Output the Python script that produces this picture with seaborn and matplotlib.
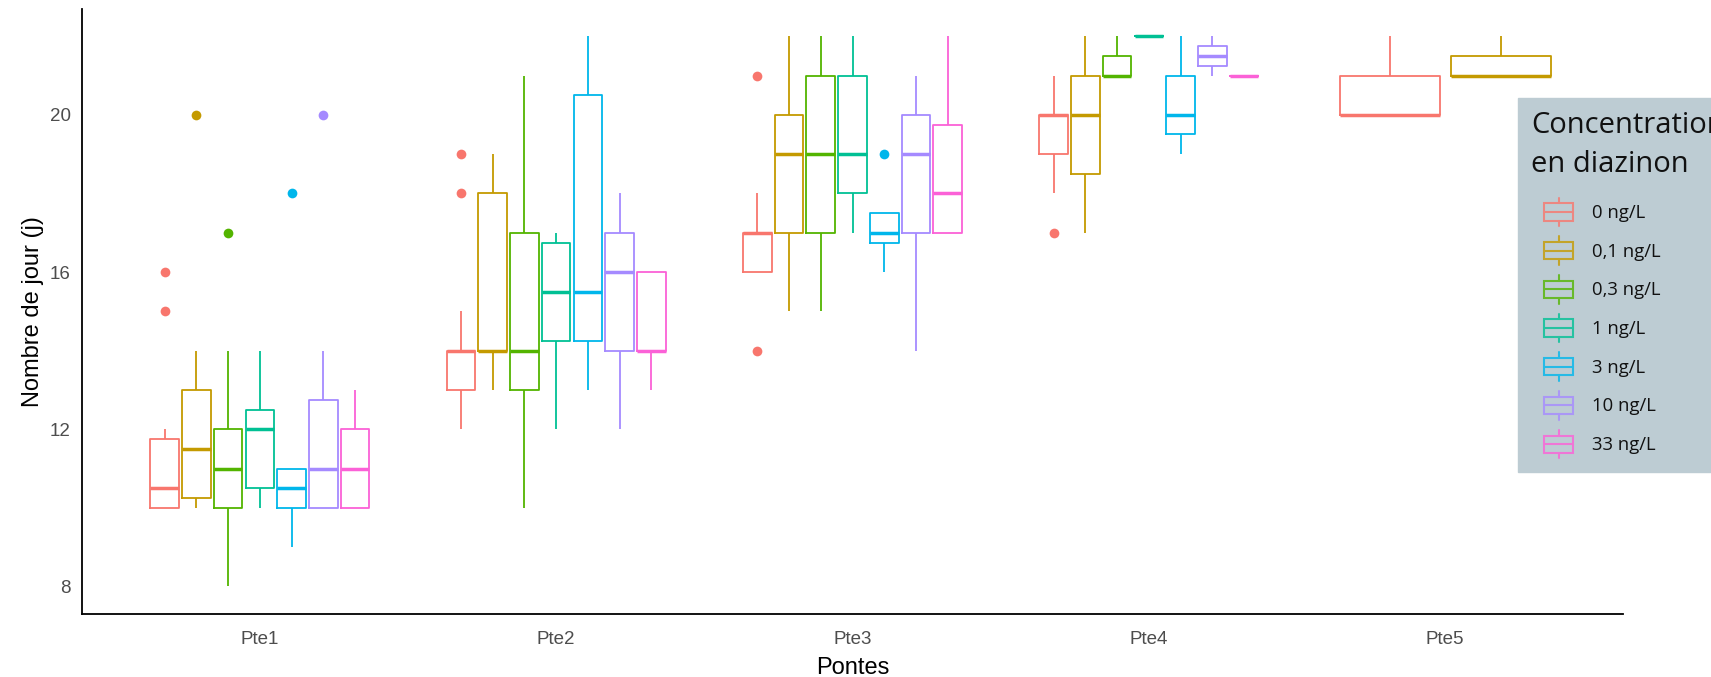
import pandas as pd
import matplotlib
matplotlib.use("Agg")
import matplotlib.pyplot as plt
import matplotlib.colors as mcolors
import seaborn as sns
from matplotlib.patches import Patch, Rectangle
from matplotlib.lines import Line2D
from matplotlib.legend_handler import HandlerBase

pontes = ["Pte1", "Pte2", "Pte3", "Pte4", "Pte5"]
concentrations = ["0 ng/L", "0,1 ng/L", "0,3 ng/L", "1 ng/L", "3 ng/L", "10 ng/L", "33 ng/L"]
colors = ["#F8766D", "#C49A00", "#53B400", "#00C094", "#00B6EB", "#A58AFF", "#FB61D7"]

# nombre de jours, une liste par concentration
pte1 = [
    [10, 10, 10, 10, 10, 11, 11, 12, 15, 16],
    [10, 10, 10, 11, 11, 12, 13, 13, 14, 20],
    [8, 10, 10, 11, 11, 12, 12, 14, 17],
    [10, 10, 11, 12, 12, 13, 14],
    [9, 10, 10, 10, 11, 11, 11, 18],
    [10, 10, 10, 10, 11, 11, 12, 13, 14, 20],
    [10, 10, 10, 11, 11, 12, 12, 13],
]
pte2 = [
    [12, 13, 13, 13, 14, 14, 14, 14, 14, 14, 15, 18, 19],
    [13, 14, 14, 14, 14, 16, 18, 18, 19],
    [10, 13, 13, 14, 14, 16, 17, 19, 21],
    [12, 13, 14, 15, 15, 16, 16, 17, 17, 17],
    [13, 14, 14, 15, 15, 16, 19, 21, 22, 22],
    [12, 13, 14, 15, 16, 16, 17, 18, 18],
    [13, 14, 14, 14, 14, 15, 16, 16, 16],
]
pte3 = [
    [14, 16, 16, 16, 17, 17, 17, 17, 17, 17, 18, 21],
    [15, 16, 17, 18, 19, 19, 20, 21, 22],
    [15, 16, 17, 18, 19, 20, 21, 21, 22],
    [17, 17, 18, 19, 19, 20, 21, 22, 22],
    [16, 16.5, 17, 17, 17.5, 17.5, 19],
    [14, 16, 17, 18, 19, 19, 20, 21, 21],
    [17, 17, 17, 17, 18, 18, 19, 20, 21, 22],
]
pte4 = [
    [17, 18, 19, 19, 20, 20, 20, 20, 21],
    [17, 18, 19, 20, 21, 21, 22],
    [21, 21, 21, 21, 21, 22, 22],
    [22, 22, 22],
    [19, 19, 20, 20, 21, 21, 22],
    [21, 22],
    [21, 21],
]
pte5 = [
    [20, 20, 20, 21, 22],
    [21, 21, 22],
]

rows = []
for ponte, groups in zip(pontes, [pte1, pte2, pte3, pte4, pte5]):
    for conc, values in zip(concentrations, groups):
        for v in values:
            rows.append((ponte, conc, v))
df = pd.DataFrame(rows, columns=["Pontes", "Concentration", "Jours"])

sns.set_style("white")
plt.rcParams["font.family"] = ["Liberation Sans", "DejaVu Sans"]

fig = plt.figure(figsize=(17.11, 6.77), dpi=100)
W, H = 1711, 677
ax = fig.add_axes([82 / W, 1 - 614 / H, (1623 - 82) / W, (614 - 8.7) / H])

box_kws = dict(x="Pontes", y="Jours", hue="Concentration", order=pontes,
               fill=False, width=0.75, gap=0.1, linewidth=1.3, showcaps=False,
               medianprops={"linewidth": 2.5},
               flierprops={"marker": "o", "markersize": 7, "markeredgewidth": 0},
               legend=False, ax=ax)

# Pte5 n'a que deux concentrations: ggplot élargit les boîtes
sns.boxplot(data=df[df.Pontes != "Pte5"], hue_order=concentrations, palette=colors, **box_kws)
sns.boxplot(data=df[df.Pontes == "Pte5"], hue_order=concentrations[:2], palette=colors[:2], **box_kws)

for line in ax.lines:
    if line.get_marker() not in (None, "None", "", " "):
        line.set_markerfacecolor(line.get_markeredgecolor())

ax.set_xlim(-0.6, 4.6)
ax.set_ylim(7.3, 22.7)
ax.set_yticks([8, 12, 16, 20])
sns.despine(ax=ax)
for side in ["left", "bottom"]:
    ax.spines[side].set_color("black")
    ax.spines[side].set_linewidth(1.3)
ax.tick_params(axis="both", direction="out", length=4, width=0.9, color="#333333",
               labelcolor="#4D4D4D", labelsize=13.5)
ax.tick_params(axis="x", pad=8)
ax.tick_params(axis="y", pad=4)
ax.set_xlabel("Pontes", fontsize=17, color="black", labelpad=7)
ax.set_ylabel("Nombre de jour (j)", fontsize=17, color="black", labelpad=4)


class BoxHandle(HandlerBase):
    def create_artists(self, legend, orig_handle, xdescent, ydescent, width, height, fontsize, trans):
        c = orig_handle.get_edgecolor()
        x0 = -xdescent + 0.3 * width
        w = 0.7 * width
        xm = x0 + w / 2
        y0 = -ydescent
        b0, b1 = y0 + 0.2 * height, y0 + 0.8 * height
        ym = y0 + 0.5 * height
        lw = 1.5
        return [
            Rectangle((x0, b0), w, b1 - b0, fill=False, edgecolor=c, lw=lw, transform=trans),
            Line2D([x0, x0 + w], [ym, ym], color=c, lw=lw, transform=trans),
            Line2D([xm, xm], [b1, y0 + height], color=c, lw=lw, transform=trans),
            Line2D([xm, xm], [y0, b0], color=c, lw=lw, transform=trans),
        ]


bg = "#BDCCD3"
bg_rgb = mcolors.to_rgb(bg)
handles = []
for c in colors:
    rgb = mcolors.to_rgb(c)
    muted = tuple(0.8 * a + 0.2 * b for a, b in zip(rgb, bg_rgb))
    handles.append(Patch(edgecolor=muted, facecolor="none"))

# the legend box runs off the right edge, as in the original slide
leg = ax.legend(handles, concentrations, handler_map={Patch: BoxHandle()},
                title="Concentration\nen diazinon", alignment="left",
                loc="upper left", bbox_to_anchor=(1517.7 / W, 1 - 98 / H),
                bbox_transform=fig.transFigure,
                prop={"family": "Open Sans", "size": 13.3},
                title_fontproperties={"family": "Open Sans", "size": 21},
                handlelength=2.3, handleheight=2.0, labelspacing=0.55,
                handletextpad=1.0, borderpad=0.72, borderaxespad=0,
                frameon=True, fancybox=False, facecolor=bg, edgecolor=bg, framealpha=1)
leg.get_title().set_linespacing(1.45)
leg._legend_box.sep += 6
for t in leg.get_texts():
    t.set_color("#111111")
leg.get_title().set_color("#111111")

fig.savefig("out.png", dpi=100)
